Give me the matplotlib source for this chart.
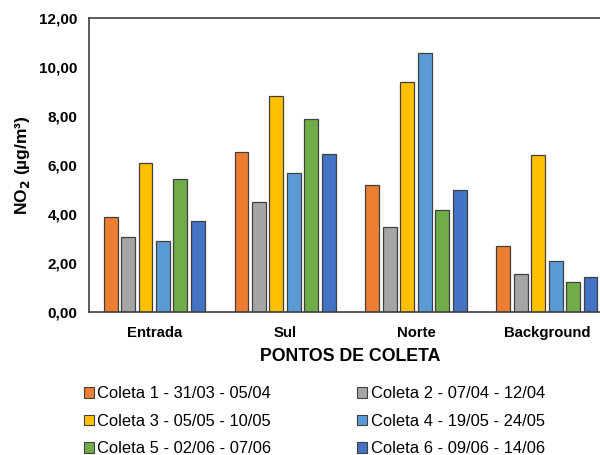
import matplotlib.pyplot as plt
import numpy as np
from matplotlib.patches import Patch

plt.rcParams["font.family"] = ["Liberation Sans", "DejaVu Sans"]

pontos = ["Entrada", "Sul", "Norte", "Background"]
coletas = [
    "Coleta 1 - 31/03 - 05/04",
    "Coleta 2 - 07/04 - 12/04",
    "Coleta 3 - 05/05 - 10/05",
    "Coleta 4 - 19/05 - 24/05",
    "Coleta 5 - 02/06 - 07/06",
    "Coleta 6 - 09/06 - 14/06",
]
cores = ["#ED7D31", "#A5A5A5", "#FFC000", "#5B9BD5", "#70AD47", "#4472C4"]

# NO2 (µg/m3) por coleta, na ordem de pontos
coleta1 = [3.89, 6.53, 5.17, 2.68]
coleta2 = [3.06, 4.48, 3.48, 1.54]
coleta3 = [6.09, 8.83, 9.37, 6.39]
coleta4 = [2.90, 5.69, 10.56, 2.08]
coleta5 = [5.43, 7.89, 4.15, 1.24]
coleta6 = [3.73, 6.46, 4.98, 1.42]
valores = [coleta1, coleta2, coleta3, coleta4, coleta5, coleta6]

fig = plt.figure(figsize=(6, 4.55), dpi=100)
ax = fig.add_axes([0.148, 0.3143, 0.8725, 0.6461])

x = np.arange(len(pontos))
passo = 0.8 / len(valores)
for i, (serie, cor) in enumerate(zip(valores, cores)):
    pos = x - 0.4 + passo * (i + 0.5)
    ax.bar(pos, serie, width=passo * 0.8, color=cor, edgecolor="#404040",
           linewidth=0.9, zorder=2)

ax.set_xlim(-0.5, 3.5)
ax.set_ylim(0, 12)
ax.set_yticks(np.arange(0, 12.01, 2))
ax.set_yticklabels([f"{v:.2f}".replace(".", ",") for v in np.arange(0, 12.01, 2)],
                   fontsize=11, fontweight="bold")
ax.set_xticks(x)
ax.set_xticklabels(pontos, fontsize=10.7, fontweight="bold")
ax.tick_params(axis="both", length=0)
ax.tick_params(axis="y", pad=8)
ax.tick_params(axis="x", pad=10)

for lado in ["left", "top", "bottom"]:
    ax.spines[lado].set_color("#404040")
    ax.spines[lado].set_linewidth(1.2)
ax.spines["right"].set_visible(False)

ax.set_xlabel("PONTOS DE COLETA", fontsize=12.8, fontweight="bold", labelpad=6)
ax.set_ylabel("NO$_\\mathbf{2}$ (µg/m³)", fontsize=12.5, fontweight="bold", labelpad=5)

# legenda em linhas: 1 2 / 3 4 / 5 6
ordem = [0, 2, 4, 1, 3, 5]
handles = [Patch(facecolor=cores[i], edgecolor="#404040", linewidth=0.8) for i in ordem]
labels = [coletas[i] for i in ordem]
fig.legend(handles, labels, ncol=2, loc="upper left", bbox_to_anchor=(0.14, 0.151),
           frameon=False, fontsize=11.9, handlelength=0.6, handleheight=0.6,
           handletextpad=0.2, columnspacing=5.2, labelspacing=0.76,
           borderaxespad=0, borderpad=0)

fig.savefig("out.png", dpi=100)
